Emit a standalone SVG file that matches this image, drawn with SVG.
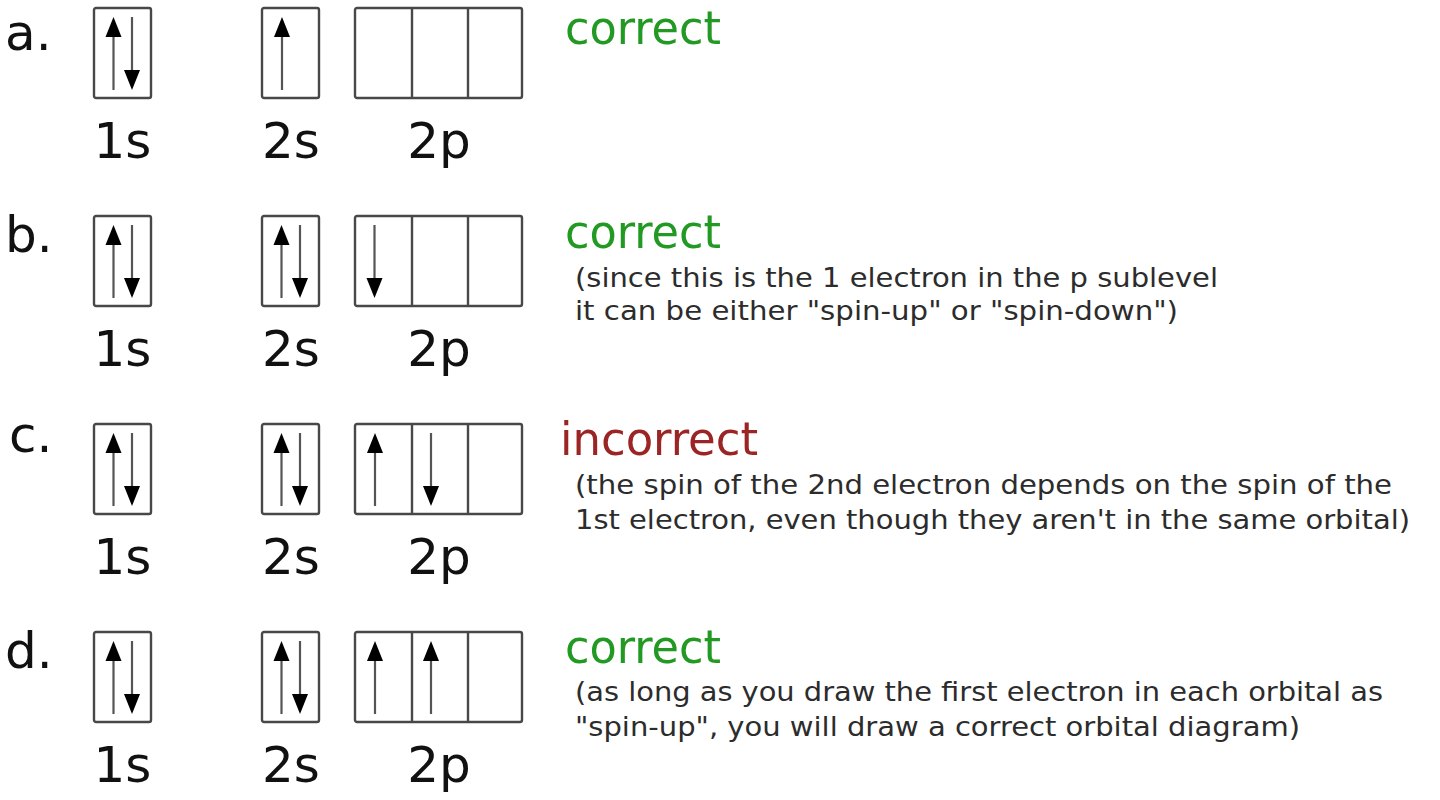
<svg xmlns="http://www.w3.org/2000/svg" xmlns:xlink="http://www.w3.org/1999/xlink" width="1440" height="800" viewBox="0 0 1440 800">
<style>
.box{fill:#fff;stroke:#484848;stroke-width:2.4;stroke-linejoin:round}
.div{stroke:#484848;stroke-width:2.4}
.shaft{stroke:#555;stroke-width:2.2}
.head{fill:#000}
.lbl{font-family:"DejaVu Sans",sans-serif;font-size:50px;fill:#111}
.row{font-family:"DejaVu Sans",sans-serif;font-size:50px;fill:#111}
.ok{font-family:"DejaVu Sans Condensed","DejaVu Sans",sans-serif;font-stretch:condensed;font-size:47px;fill:#229922}
.bad{font-family:"DejaVu Sans Condensed","DejaVu Sans",sans-serif;font-stretch:condensed;font-size:47px;fill:#9b2424}
.note{font-family:"DejaVu Sans Condensed","DejaVu Sans",sans-serif;font-stretch:condensed;font-size:27px;fill:#2c2c2c}
</style>
<defs>
<g id="up"><line class="shaft" x1="0" y1="26" x2="0" y2="82"/><path class="head" d="M-8,29 L0,9 L8,29 Z"/></g>
<g id="down"><line class="shaft" x1="0" y1="9" x2="0" y2="64"/><path class="head" d="M-8,62 L0,82 L8,62 Z"/></g>
<g id="sbox"><rect class="box" x="0" y="0" width="57" height="90" rx="2"/></g>
<g id="pbox"><rect class="box" x="0" y="0" width="167" height="90" rx="2"/><line class="div" x1="57" y1="0" x2="57" y2="90"/><line class="div" x1="113" y1="0" x2="113" y2="90"/></g>
</defs>

<g id="row-a">
<text class="row" x="5" y="50">a.</text>
<g id="a-1s"><use xlink:href="#sbox" x="94" y="8"/><use xlink:href="#up" x="113.5" y="8"/><use xlink:href="#down" x="132" y="8"/></g>
<g id="a-2s"><use xlink:href="#sbox" x="262" y="8"/><use xlink:href="#up" x="282" y="8"/></g>
<g id="a-2p"><use xlink:href="#pbox" x="355" y="8"/></g>
<text class="lbl" x="122.5" y="158" text-anchor="middle">1s</text>
<text class="lbl" x="291" y="158" text-anchor="middle">2s</text>
<text class="lbl" x="439" y="158" text-anchor="middle">2p</text>
<text class="ok" x="565" y="44" textLength="156" lengthAdjust="spacingAndGlyphs">correct</text>
</g>

<g id="row-b">
<text class="row" x="5" y="252">b.</text>
<g id="b-1s"><use xlink:href="#sbox" x="94" y="216"/><use xlink:href="#up" x="113.5" y="216"/><use xlink:href="#down" x="132" y="216"/></g>
<g id="b-2s"><use xlink:href="#sbox" x="262" y="216"/><use xlink:href="#up" x="281.5" y="216"/><use xlink:href="#down" x="300" y="216"/></g>
<g id="b-2p"><use xlink:href="#pbox" x="355" y="216"/><use xlink:href="#down" x="374.5" y="216"/></g>
<text class="lbl" x="122.5" y="366" text-anchor="middle">1s</text>
<text class="lbl" x="291" y="366" text-anchor="middle">2s</text>
<text class="lbl" x="439" y="366" text-anchor="middle">2p</text>
<text class="ok" x="565" y="248" textLength="156" lengthAdjust="spacingAndGlyphs">correct</text>
<text class="note" x="575" y="287" textLength="643" lengthAdjust="spacingAndGlyphs">(since this is the 1 electron in the p sublevel</text>
<text class="note" x="575" y="320" textLength="603" lengthAdjust="spacingAndGlyphs">it can be either "spin-up" or "spin-down")</text>
</g>

<g id="row-c">
<text class="row" x="9" y="452">c.</text>
<g id="c-1s"><use xlink:href="#sbox" x="94" y="424"/><use xlink:href="#up" x="113.5" y="424"/><use xlink:href="#down" x="132" y="424"/></g>
<g id="c-2s"><use xlink:href="#sbox" x="262" y="424"/><use xlink:href="#up" x="281.5" y="424"/><use xlink:href="#down" x="300" y="424"/></g>
<g id="c-2p"><use xlink:href="#pbox" x="355" y="424"/><use xlink:href="#up" x="375" y="424"/><use xlink:href="#down" x="431" y="424"/></g>
<text class="lbl" x="122.5" y="574" text-anchor="middle">1s</text>
<text class="lbl" x="291" y="574" text-anchor="middle">2s</text>
<text class="lbl" x="439" y="574" text-anchor="middle">2p</text>
<text class="bad" x="560" y="455" textLength="198" lengthAdjust="spacingAndGlyphs">incorrect</text>
<text class="note" x="575" y="494" textLength="817" lengthAdjust="spacingAndGlyphs">(the spin of the 2nd electron depends on the spin of the</text>
<text class="note" x="575" y="529" textLength="835" lengthAdjust="spacingAndGlyphs">1st electron, even though they aren't in the same orbital)</text>
</g>

<g id="row-d">
<text class="row" x="5" y="668">d.</text>
<g id="d-1s"><use xlink:href="#sbox" x="94" y="632"/><use xlink:href="#up" x="113.5" y="632"/><use xlink:href="#down" x="132" y="632"/></g>
<g id="d-2s"><use xlink:href="#sbox" x="262" y="632"/><use xlink:href="#up" x="281.5" y="632"/><use xlink:href="#down" x="300" y="632"/></g>
<g id="d-2p"><use xlink:href="#pbox" x="355" y="632"/><use xlink:href="#up" x="375" y="632"/><use xlink:href="#up" x="431" y="632"/></g>
<text class="lbl" x="122.5" y="782" text-anchor="middle">1s</text>
<text class="lbl" x="291" y="782" text-anchor="middle">2s</text>
<text class="lbl" x="439" y="782" text-anchor="middle">2p</text>
<text class="ok" x="565" y="663" textLength="156" lengthAdjust="spacingAndGlyphs">correct</text>
<text class="note" x="575" y="701" textLength="808" lengthAdjust="spacingAndGlyphs">(as long as you draw the first electron in each orbital as</text>
<text class="note" x="575" y="736" textLength="725" lengthAdjust="spacingAndGlyphs">"spin-up", you will draw a correct orbital diagram)</text>
</g>

<g id="connectors"></g>
</svg>
